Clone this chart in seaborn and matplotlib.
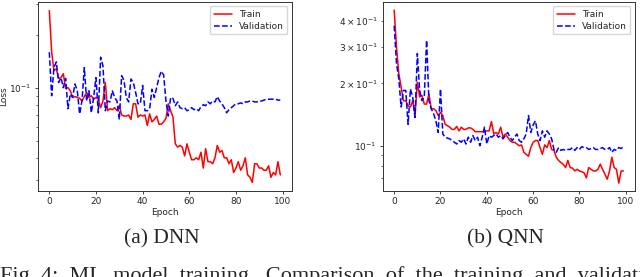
import numpy as np
import pandas as pd
import matplotlib
matplotlib.use("Agg")
import matplotlib.pyplot as plt
import seaborn as sns

# values, epochs 0..99
epochs = list(range(100))

dnn_train = [0.274, 0.160, 0.125, 0.128, 0.113, 0.114, 0.120, 0.099, 0.100, 0.096,
             0.088, 0.089, 0.088, 0.087, 0.084, 0.089, 0.094, 0.088, 0.090, 0.086,
             0.088, 0.086, 0.077, 0.084, 0.107, 0.074, 0.076, 0.075, 0.077, 0.074,
             0.079, 0.070, 0.069, 0.069, 0.070, 0.066, 0.081, 0.081, 0.068, 0.070,
             0.069, 0.070, 0.061, 0.071, 0.064, 0.066, 0.069, 0.062, 0.062, 0.064,
             0.067, 0.081, 0.074, 0.068, 0.048, 0.046, 0.047, 0.046, 0.041, 0.048,
             0.043, 0.039, 0.039, 0.040, 0.039, 0.043, 0.035, 0.045, 0.038, 0.038,
             0.037, 0.040, 0.047, 0.043, 0.044, 0.040, 0.040, 0.037, 0.039, 0.033,
             0.035, 0.038, 0.034, 0.036, 0.040, 0.032, 0.031, 0.029, 0.037, 0.037,
             0.035, 0.035, 0.034, 0.034, 0.036, 0.031, 0.033, 0.032, 0.038, 0.032]

dnn_val = [0.159, 0.090, 0.130, 0.140, 0.107, 0.114, 0.100, 0.113, 0.076, 0.092,
           0.088, 0.105, 0.096, 0.071, 0.084, 0.130, 0.084, 0.096, 0.072, 0.088,
           0.114, 0.072, 0.149, 0.133, 0.074, 0.084, 0.083, 0.096, 0.088, 0.084,
           0.066, 0.117, 0.110, 0.088, 0.083, 0.112, 0.107, 0.094, 0.081, 0.081,
           0.103, 0.074, 0.074, 0.076, 0.098, 0.088, 0.100, 0.114, 0.124, 0.118,
           0.084, 0.069, 0.088, 0.087, 0.079, 0.083, 0.077, 0.076, 0.077, 0.074,
           0.075, 0.077, 0.075, 0.076, 0.074, 0.078, 0.080, 0.079, 0.083, 0.081,
           0.084, 0.083, 0.089, 0.084, 0.081, 0.077, 0.072, 0.075, 0.077, 0.079,
           0.081, 0.081, 0.082, 0.081, 0.083, 0.083, 0.084, 0.084, 0.083, 0.083,
           0.084, 0.084, 0.085, 0.086, 0.086, 0.086, 0.086, 0.086, 0.085, 0.085]

qnn_train = [0.452, 0.300, 0.223, 0.192, 0.165, 0.165, 0.156, 0.154, 0.165, 0.140,
             0.203, 0.172, 0.175, 0.159, 0.159, 0.178, 0.151, 0.151, 0.148, 0.140,
             0.145, 0.140, 0.127, 0.125, 0.123, 0.120, 0.120, 0.124, 0.118, 0.123,
             0.120, 0.120, 0.122, 0.122, 0.120, 0.117, 0.117, 0.117, 0.117, 0.117,
             0.118, 0.118, 0.131, 0.114, 0.116, 0.114, 0.123, 0.110, 0.114, 0.110,
             0.106, 0.104, 0.104, 0.102, 0.100, 0.101, 0.093, 0.091, 0.089, 0.098,
             0.104, 0.106, 0.106, 0.098, 0.091, 0.101, 0.098, 0.106, 0.096, 0.095,
             0.088, 0.085, 0.083, 0.0815, 0.0785, 0.085, 0.0785, 0.078, 0.0756, 0.077,
             0.0756, 0.075, 0.074, 0.070, 0.0785, 0.077, 0.0756, 0.0756, 0.077, 0.0815,
             0.077, 0.073, 0.069, 0.0756, 0.088, 0.0785, 0.077, 0.066, 0.0756, 0.0756]

qnn_val = [0.380, 0.250, 0.210, 0.154, 0.185, 0.185, 0.127, 0.188, 0.172, 0.137,
           0.279, 0.185, 0.165, 0.172, 0.323, 0.165, 0.151, 0.143, 0.132, 0.116,
           0.188, 0.114, 0.110, 0.109, 0.108, 0.106, 0.104, 0.102, 0.106, 0.104,
           0.108, 0.102, 0.110, 0.104, 0.112, 0.106, 0.110, 0.100, 0.110, 0.123,
           0.102, 0.112, 0.110, 0.112, 0.114, 0.110, 0.112, 0.108, 0.112, 0.116,
           0.110, 0.106, 0.110, 0.114, 0.106, 0.104, 0.108, 0.114, 0.140, 0.116,
           0.126, 0.132, 0.114, 0.106, 0.118, 0.110, 0.118, 0.114, 0.108, 0.096,
           0.093, 0.098, 0.095, 0.096, 0.095, 0.096, 0.096, 0.098, 0.095, 0.098,
           0.096, 0.099, 0.098, 0.098, 0.096, 0.097, 0.098, 0.096, 0.096, 0.097,
           0.098, 0.096, 0.096, 0.098, 0.093, 0.096, 0.095, 0.098, 0.097, 0.099]

panel_captions = ["(a) DNN", "(b) QNN"]
fig_caption = "Fig. 4:  ML  model  training.  Comparison  of  the  training  and  validation  loss"

sns.set_style("ticks")
plt.rcParams['font.family'] = ['DejaVu Sans']

fig = plt.figure(figsize=(6.4, 2.77), dpi=100)
ax1 = fig.add_axes([0.059, 0.3105, 0.397, 0.6825])
ax2 = fig.add_axes([0.598, 0.3105, 0.394, 0.6825])

for ax, train, val in [(ax1, dnn_train, dnn_val), (ax2, qnn_train, qnn_val)]:
    df = pd.DataFrame({"Epoch": epochs, "Train": train, "Validation": val})
    sns.lineplot(data=df, x="Epoch", y="Train", ax=ax, color="red", lw=1.1, label="Train")
    sns.lineplot(data=df, x="Epoch", y="Validation", ax=ax, color="blue", lw=1.1,
                 linestyle="--", label="Validation")
    ax.set_yscale("log")
    ax.set_xlabel("Epoch", fontsize=6.5, labelpad=1.5)
    ax.set_ylabel("")
    ax.set_xticks([0, 20, 40, 60, 80, 100])
    ax.tick_params(which="both", labelsize=6.5, pad=2)
    ax.tick_params(which="major", length=2.5, width=0.6)
    ax.tick_params(which="minor", length=1.5, width=0.5)
    for s in ax.spines.values():
        s.set_linewidth(0.7)
        s.set_color("#333333")
    ax.legend(loc="upper right", fontsize=6.5, frameon=True, fancybox=True,
              borderpad=0.4, handlelength=2.0, labelspacing=0.3)

ax1.set_ylabel("Loss", fontsize=6.5, labelpad=1)
ax2.set_ylim(0.0605, 0.495)

fig.text(0.253, 0.137, panel_captions[0], ha="center", va="center",
         family="Liberation Serif", fontsize=15.5)
fig.text(0.79, 0.137, panel_captions[1], ha="center", va="center",
         family="Liberation Serif", fontsize=15.5)
fig.text(0.0, -0.014, fig_caption, ha="left", va="baseline",
         family="Liberation Serif", fontsize=16)

fig.savefig("out.png", dpi=100)
